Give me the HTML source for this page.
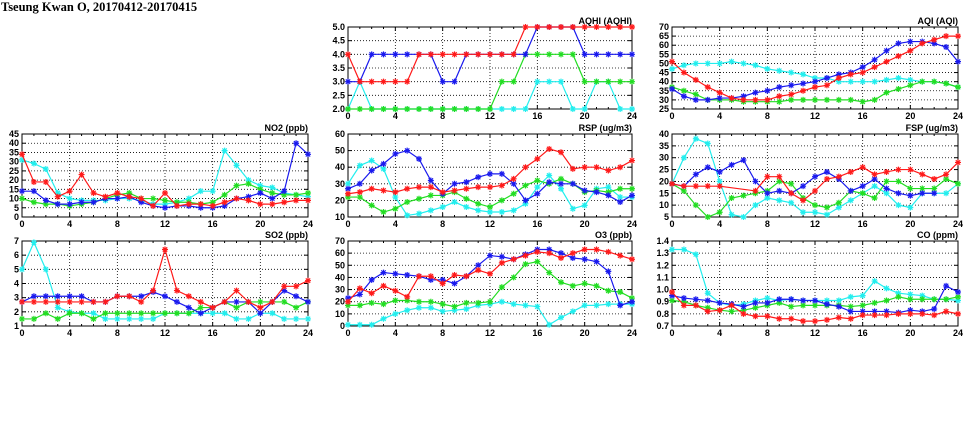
<!DOCTYPE html><html><head><meta charset="utf-8"><style>body{margin:0;background:#fff}svg{display:block}text{font-family:"Liberation Sans",sans-serif;font-weight:bold;font-size:9px}</style></head><body>
<svg id="s" width="975" height="447" xmlns="http://www.w3.org/2000/svg">
<text x="1" y="11" style="font-family:'Liberation Serif',serif;font-size:12.5px">Tseung Kwan O, 20170412-20170415</text>
</svg>
<script>
const C={r:'#ff1a1a',b:'#1a1aee',g:'#22dd22',c:'#22eeee'};
const P=[
{t:'AQHI (AQHI)',x0:348,x1:632,y0:27,y1:109,min:2,max:5,st:0.5,fmt:1,d:{
c:[2,3,2,2,2,2,2,2,2,2,2,2,2,2,2,2,3,3,3,2,2,3,3,2,2],
g:[2,2,2,2,2,2,2,2,2,2,2,2,2,3,3,4,4,4,4,4,3,3,3,3,3],
b:[3,3,4,4,4,4,4,4,3,3,4,4,4,4,4,4,5,5,5,5,4,4,4,4,4],
r:[4,3,3,3,3,3,4,4,4,4,4,4,4,4,4,5,5,5,5,5,5,5,5,5,5]}},
{t:'AQI (AQI)',x0:672,x1:958,y0:27,y1:109,min:25,max:70,st:5,d:{
c:[47,49,50,50,50,51,50,49,47,46,45,44,42,42,40,40,40,40,41,42,41,40,40,39,37],
g:[37,35,33,30,30,30,29,29,29,29,30,30,30,30,30,30,29,30,34,36,38,40,40,39,37],
b:[36,32,30,30,31,31,32,34,35,37,38,39,40,42,44,45,48,52,57,61,62,62,61,59,51],
r:[51,45,41,37,34,31,30,30,30,32,33,35,37,38,42,44,45,48,51,54,57,61,63,65,65]}},
{t:'NO2 (ppb)',x0:22,x1:308,y0:134,y1:217,min:0,max:45,st:5,d:{
c:[31,29,26,13,10,9,9,9,10,10,9,7,7,8,10,14,14,36,28,20,17,16,13,12,11],
g:[10,8,7,7,6,7,8,10,12,13,10,10,9,8,8,7,8,12,17,18,15,13,12,12,13],
b:[14,14,9,7,7,8,8,10,10,11,8,6,5,6,6,5,5,6,10,11,13,10,14,40,34],
r:[34,19,19,11,14,23,13,11,13,11,10,6,13,6,7,7,6,8,10,9,7,7,8,9,9]}},
{t:'RSP (ug/m3)',x0:348,x1:632,y0:134,y1:217,min:10,max:60,st:10,d:{
c:[30,41,44,39,22,11,12,14,16,19,16,14,13,13,14,18,28,35,27,15,17,27,28,22,22],
g:[22,22,17,13,15,19,21,23,23,25,21,18,16,20,24,29,32,30,33,30,25,26,25,27,27],
b:[27,30,38,42,48,50,45,32,24,30,31,34,36,36,30,20,24,31,30,30,26,25,23,19,23],
r:[24,25,27,26,25,27,28,28,25,26,27,28,28,29,33,40,45,51,49,39,40,40,38,40,44]}},
{t:'FSP (ug/m3)',x0:672,x1:958,y0:134,y1:217,min:5,max:40,st:5,d:{
c:[19,30,38,36,20,6,5,10,13,12,11,7,7,6,9,12,15,18,15,10,9,15,15,15,19],
g:[19,16,10,5,7,13,14,15,16,20,19,13,10,9,11,16,15,13,20,20,17,17,17,21,19],
b:[19,18,23,26,24,27,29,20,15,16,15,18,22,24,21,16,18,21,17,15,14,15,15,null,null],
r:[19,18,18,18,18,null,null,16,22,22,15,12,16,21,22,24,26,23,24,25,25,23,21,23,28]}},
{t:'SO2 (ppb)',x0:22,x1:308,y0:241,y1:326,min:1,max:7,st:1,d:{
c:[5,6.9,5,2.3,2,1.9,1.9,1.5,1.5,1.5,1.5,1.5,1.9,1.9,1.9,1.9,1.9,1.9,1.5,1.5,1.9,1.9,1.5,1.5,1.5],
g:[1.5,1.5,1.9,1.5,1.9,1.9,1.5,1.9,1.9,1.9,1.9,1.9,1.9,1.9,1.9,2.3,2.3,2.7,2.3,2.7,2.7,2.7,2.7,2.3,2.7],
b:[2.7,3.1,3.1,3.1,3.1,3.1,2.7,2.7,3.1,3.1,3.1,3.4,3.1,2.7,2.3,1.9,2.3,2.7,2.7,2.7,1.9,2.7,3.5,3.1,2.7],
r:[2.7,2.7,2.7,2.7,2.7,2.7,2.7,2.7,3.1,3.1,2.7,3.5,6.4,3.5,3.1,2.7,2.3,2.7,3.5,2.7,2.3,2.7,3.8,3.8,4.2]}},
{t:'O3 (ppb)',x0:348,x1:632,y0:241,y1:326,min:0,max:70,st:10,d:{
c:[1,1,1,6,10,13,15,15,12,13,14,17,18,20,18,17,16,1,7,12,17,17,18,18,18],
g:[17,17,19,18,21,21,20,20,18,16,19,19,20,32,40,51,53,44,36,33,35,33,29,28,23],
b:[23,26,38,44,43,42,41,38,38,35,41,50,58,57,55,59,63,63,60,56,55,53,45,17,20],
r:[20,31,27,33,29,24,41,41,35,42,41,46,43,52,55,58,61,60,56,60,63,63,61,58,55]}},
{t:'CO (ppm)',x0:672,x1:958,y0:241,y1:326,min:0.7,max:1.4,st:0.1,fmt:1,d:{
c:[1.33,1.33,1.29,0.97,0.89,0.87,0.88,0.91,0.93,0.91,0.92,0.91,0.91,0.91,0.91,0.94,0.95,1.07,1.01,0.97,0.96,0.95,0.92,0.92,0.91],
g:[0.91,0.9,0.87,0.85,0.83,0.82,0.83,0.85,0.87,0.89,0.86,0.87,0.87,0.87,0.87,0.86,0.87,0.89,0.91,0.94,0.92,0.92,0.92,0.92,0.94],
b:[0.95,0.93,0.92,0.91,0.89,0.88,0.86,0.89,0.89,0.92,0.92,0.91,0.91,0.88,0.86,0.82,0.82,0.82,0.82,0.81,0.83,0.82,0.84,1.03,0.98],
r:[0.98,0.87,0.87,0.82,0.83,0.87,0.80,0.78,0.78,0.76,0.76,0.74,0.74,0.75,0.77,0.76,0.79,0.79,0.79,0.80,0.80,0.80,0.79,0.82,0.80]}}
];
let h='';
for(const p of P){
 const X=i=>p.x0+(p.x1-p.x0)*i/24, Y=v=>p.y1-(p.y1-p.y0)*(v-p.min)/(p.max-p.min);
 const n=Math.round((p.max-p.min)/p.st);
 for(let k=0;k<=n;k++){const v=p.min+k*p.st,y=Y(v);
  if(k>0&&k<n)h+=`<line x1="${p.x0}" x2="${p.x1}" y1="${y}" y2="${y}" stroke="#000" stroke-width="0.8" stroke-dasharray="1,2"/>`;
  h+=`<line x1="${p.x0}" x2="${p.x0+4}" y1="${y}" y2="${y}" stroke="#000"/><line x1="${p.x1-4}" x2="${p.x1}" y1="${y}" y2="${y}" stroke="#000"/>`;
  h+=`<text x="${p.x0-3}" y="${y+3}" text-anchor="end">${p.fmt?v.toFixed(1):Math.round(v)}</text>`;}
 for(let i=0;i<=24;i++){const x=X(i),L=i%4?2:4;
  if(i%4==0&&i>0&&i<24)h+=`<line x1="${x}" x2="${x}" y1="${p.y0}" y2="${p.y1}" stroke="#000" stroke-width="0.8" stroke-dasharray="1,2"/>`;
  h+=`<line x1="${x}" x2="${x}" y1="${p.y1}" y2="${p.y1-L}" stroke="#000"/><line x1="${x}" x2="${x}" y1="${p.y0}" y2="${p.y0+L}" stroke="#000"/>`;
  if(i%4==0)h+=`<text x="${x}" y="${p.y1+10}" text-anchor="middle">${i}</text>`;}
 h+=`<rect x="${p.x0}" y="${p.y0}" width="${p.x1-p.x0}" height="${p.y1-p.y0}" fill="none" stroke="#000"/>`;
 h+=`<text x="${p.x1}" y="${p.y0-3}" text-anchor="end">${p.t}</text>`;
 for(const s of ['c','g','b','r']){const a=p.d[s],col=C[s];let pts=[];
  a.forEach((v,i)=>{if(v!=null)pts.push([X(i),Y(v)])});
  h+=`<polyline points="${pts.map(q=>q.join(',')).join(' ')}" fill="none" stroke="${col}" stroke-width="1.2"/>`;
  for(const[x,y]of pts)h+=`<path d="M${x-3},${y}h6M${x},${y-3}v6M${x-2.2},${y-2.2}l4.4,4.4M${x-2.2},${y+2.2}l4.4,-4.4" stroke="${col}" stroke-width="1.2"/>`;}
}
document.getElementById('s').insertAdjacentHTML('beforeend',h);
</script></body></html>
